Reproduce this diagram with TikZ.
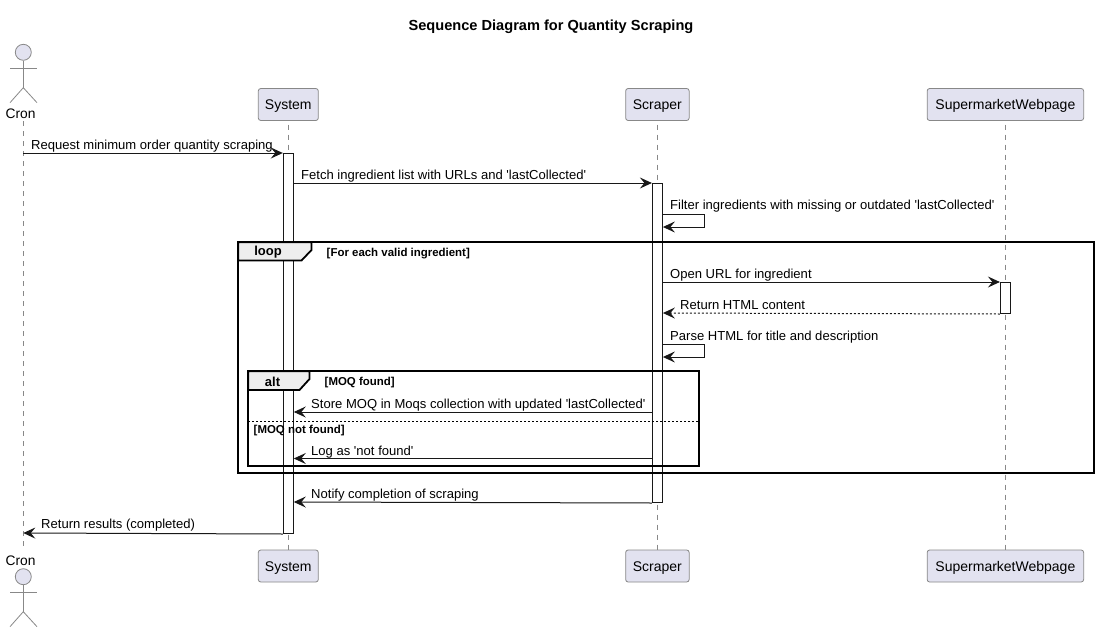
\documentclass[tikz,border=0pt]{standalone}
\usepackage{fontspec}
\setmainfont{Liberation Sans}
\usetikzlibrary{arrows.meta}
\definecolor{partfill}{HTML}{E2E2F0}
\definecolor{partline}{HTML}{888888}
\definecolor{ink}{HTML}{181818}
\definecolor{tabfill}{HTML}{EEEEEE}
\newcommand{\sq}{\textquotesingle}
\tikzset{
 x=1pt,y=-1pt,
 part/.style={draw=partline,fill=partfill,rounded corners=2.5pt,line width=0.8pt,minimum height=32pt,inner sep=0pt,text height=10pt,text depth=0pt,font=\fontsize{14}{16}\selectfont,text=black},
 life/.style={draw=partline,line width=0.7pt,dash pattern=on 5pt off 5pt},
 actbar/.style={draw=ink,fill=white,line width=1pt,minimum width=10pt,inner sep=0pt,anchor=north},
 msg/.style={draw=ink,line width=1pt,-{Stealth[length=12pt,width=11pt,inset=4.5pt,color=ink]}},
 reply/.style={msg,dash pattern=on 2pt off 2pt},
 lbl/.style={font=\fontsize{13.05}{15}\selectfont,anchor=base west,inner sep=0pt,text=black},
 fr/.style={draw=black,line width=2pt},
 frtab/.style={draw=black,fill=tabfill,line width=1.8pt},
 frname/.style={font=\bfseries\fontsize{13}{15}\selectfont,inner sep=0pt,text=black},
 cond/.style={font=\bfseries\fontsize{11.45}{13}\selectfont,anchor=base west,inner sep=0pt,text=black},
 actorname/.style={font=\fontsize{13.8}{16}\selectfont,inner sep=0pt,text=black},
 stick/.style={draw=partline,line width=0.8pt},
 head/.style={circle,draw=partline,fill=partfill,line width=0.8pt,minimum size=16pt,inner sep=0pt},
}
\begin{document}
\begin{tikzpicture}
\useasboundingbox (0,0) rectangle (1098,632);
\fill[white] (0,0) rectangle (1098,632);
\node[font=\bfseries\fontsize{14.6}{17}\selectfont,text=black] (title) at (551,26.5) {Sequence Diagram for Quantity Scraping};

\coordinate (cronTop) at (23.3,121);
\coordinate (cronBot) at (23.3,547);
\node[actorname] (cronT) at (20.5,113.5) {Cron};
\node[actorname] (cronB) at (20.5,560.5) {Cron};

% lifelines, under the boxes
\coordinate (sysTL) at (288.3,104.5);
\coordinate (sysBL) at (288.3,566);
\coordinate (scrTL) at (657.4,104.5);
\coordinate (scrBL) at (657.4,566);
\coordinate (supTL) at (1005.4,104.5);
\coordinate (supBL) at (1005.4,566);
\draw[life] (cronTop) -- (cronBot);
\draw[life] (sysTL) -- (sysBL);
\draw[life] (scrTL) -- (scrBL);
\draw[life] (supTL) -- (supBL);

% participants
\node[part,minimum width=60pt] (sysT) at (sysTL) {System};
\node[part,minimum width=63.5pt] (scrT) at (scrTL) {Scraper};
\node[part,minimum width=156.5pt] (supT) at (supTL) {SupermarketWebpage};
\node[part,minimum width=60pt] (sysB) at (sysBL) {System};
\node[part,minimum width=63.5pt] (scrB) at (scrBL) {Scraper};
\node[part,minimum width=156.5pt] (supB) at (supBL) {SupermarketWebpage};

% actors
\node[head] (hT) at (23.3,52.3) {};
\draw[stick] (hT.south) -- (23.3,87.7) coordinate (hipT);
\draw[stick] (10,68.3) -- (37,68.3);
\draw[stick] (10,102.7) -- (hipT) -- (37,102.7);
\node[head] (hB) at (23.3,576.7) {};
\draw[stick] (hB.south) -- (23.3,611.7) coordinate (hipB);
\draw[stick] (10,592.3) -- (37,592.3);
\draw[stick] (10,626.7) -- (hipB) -- (37,626.7);

% activation bars
\node[actbar,minimum height=380pt] (sysA) at (288.3,153) {};
\node[actbar,minimum height=319pt] (scrA) at (657.4,183) {};
\node[actbar,minimum height=31pt] (supA) at (1005.4,282) {};

% loop and alt frames, over the bars
\draw[fr] (238.3,242.3) rectangle (1093.5,473.3);
\draw[fr] (248.3,371.3) rectangle (699.3,466);
\path[frtab] (238.3,242.3) -- (311.5,242.3) -- (311.5,250) -- (301.5,260.5) -- (238.3,260.5) -- cycle;
\path[frtab] (248.3,371.3) -- (309.5,371.3) -- (309.5,379) -- (299.5,390) -- (248.3,390) -- cycle;
\draw[draw=black,line width=0.8pt,dash pattern=on 2pt off 2pt] (248.3,421.5) -- (699.3,421.5);
\node[frname] (loopT) at (268,252.5) {loop};
\node[frname] (altT) at (272.5,381.5) {alt};
\node[cond] (loopC) at (326.5,256) {[For each valid ingredient]};
\node[cond] (altC) at (324.5,385) {[MOQ found]};
\node[cond] (elseC) at (253.5,433) {[MOQ not found]};

% messages
\draw[msg] (cronTop |- 0,153) -- (sysA.north west);
\node[lbl] at (31,149.5) {Request minimum order quantity scraping};
\draw[msg] (sysA.east |- 0,183) -- (scrA.north west);
\node[lbl] at (301,179) {Fetch ingredient list with URLs and \sq lastCollected\sq};
\draw[msg] (scrA.east |- 0,214.5) -- ++(42,0) -- ++(0,12.5) -- (scrA.east |- 0,227);
\node[lbl] at (670,209) {Filter ingredients with missing or outdated \sq lastCollected\sq};
\draw[msg] (scrA.east |- 0,282) -- (supA.north west);
\node[lbl] at (670,278) {Open URL for ingredient};
\draw[reply] (supA.south west) -- (scrA.east |- 0,313);
\node[lbl] at (680,309) {Return HTML content};
\draw[msg] (scrA.east |- 0,344) -- ++(42,0) -- ++(0,13) -- (scrA.east |- 0,357);
\node[lbl] at (670,340) {Parse HTML for title and description};
\draw[msg] (scrA.west |- 0,412) -- (sysA.east |- 0,412);
\node[lbl] at (311,408.5) {Store MOQ in Moqs collection with updated \sq lastCollected\sq};
\draw[msg] (scrA.west |- 0,458.5) -- (sysA.east |- 0,458.5);
\node[lbl] at (311,455) {Log as \sq not found\sq};
\draw[msg] (scrA.south west) -- (sysA.east |- 0,502);
\node[lbl] at (311,498.5) {Notify completion of scraping};
\draw[msg] (sysA.south west) -- (cronTop |- 0,533);
\node[lbl] at (41,528.5) {Return results (completed)};
\end{tikzpicture}
\end{document}
